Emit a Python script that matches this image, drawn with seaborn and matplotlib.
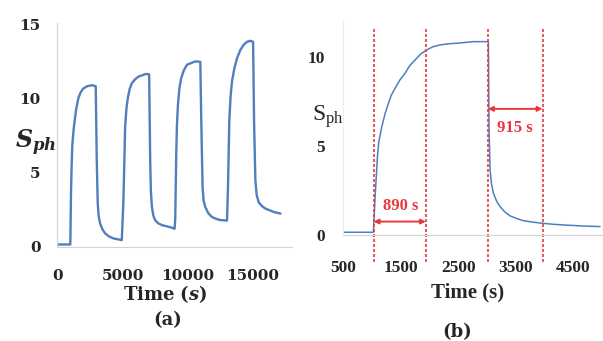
import numpy as np
import matplotlib as mpl
mpl.use('Agg')

import matplotlib.pyplot as plt
import seaborn as sns
import pandas as pd

# panel (a): four on/off cycles
cycle_time = [0, 1000, 1050, 1100, 1155, 1250, 1360, 1450, 1620, 1800, 2000, 2300, 2650, 2950,
              3030, 3105, 3180, 3285, 3450, 3670, 4000, 4310, 4950,
              5075, 5205, 5300, 5410, 5550, 5720, 5950, 6230, 6800, 7050,
              7130, 7180, 7260, 7370, 7510, 7750, 8030, 8670, 9000,
              9050, 9130, 9180, 9260, 9370, 9510, 9700, 9950, 10590, 10975,
              11050, 11150, 11230, 11360, 11600, 11870, 12200, 12510, 13025,
              13100, 13200, 13300, 13410, 13600, 13795, 14050, 14300, 14550, 14820, 15025,
              15100, 15200, 15300, 15460, 15700, 15970, 16610, 17125]
cycle_sph = [0.15, 0.15, 3.5, 5.5, 6.9, 7.9, 8.7, 9.3, 10.05, 10.45, 10.7, 10.85, 10.92, 10.85,
             5.8, 2.9, 2.05, 1.57, 1.2, 0.9, 0.68, 0.56, 0.45,
             3.1, 8.05, 9.3, 10.05, 10.65, 11.05, 11.3, 11.5, 11.68, 11.65,
             5.8, 3.8, 2.7, 2.1, 1.79, 1.58, 1.46, 1.32, 1.22,
             1.8, 6.3, 8.2, 9.6, 10.7, 11.4, 11.9, 12.3, 12.53, 12.5,
             8.5, 4.0, 3.1, 2.68, 2.25, 2.01, 1.88, 1.8, 1.77,
             4.0, 8.5, 10.2, 11.2, 12.1, 12.75, 13.3, 13.65, 13.85, 13.92, 13.85,
             8.5, 4.5, 3.5, 3.0, 2.75, 2.58, 2.35, 2.24]

# panel (b): single cycle, rise/decay times
single_time = [500, 1027, 1057, 1097, 1120, 1173, 1230, 1288, 1340, 1404, 1490, 1578, 1660,
               1752, 1850, 1955, 2060, 2187, 2330, 2477, 2766, 3000, 3027,
               3039, 3057, 3080, 3114, 3170, 3230, 3310, 3404, 3520, 3636, 3800, 3955,
               4150, 4331, 4679, 4970]
single_sph = [0.15, 0.15, 2.15, 4.39, 5.2, 6.07, 6.8, 7.38, 7.85, 8.23, 8.7, 9.07, 9.5,
              9.81, 10.15, 10.38, 10.55, 10.66, 10.72, 10.75, 10.84, 10.84, 10.85,
              5.89, 3.65, 2.9, 2.34, 1.9, 1.59, 1.3, 1.07, 0.92, 0.80, 0.72, 0.66,
              0.6, 0.56, 0.50, 0.47]
marker_times = [1030, 1940, 3020, 3970]
rise_label = "890 s"
decay_label = "915 s"

blue = '#4f7fbd'
red = '#e8383d'
grey = '#d4d4d4'

sns.set_style("white")
plt.rcParams['mathtext.fontset'] = 'custom'
plt.rcParams['mathtext.it'] = 'DejaVu Serif:italic:bold'
plt.rcParams['mathtext.rm'] = 'Liberation Serif'
plt.rcParams['mathtext.bf'] = 'DejaVu Serif:bold'

fig = plt.figure(figsize=(6.03, 3.41), dpi=100)
ax1 = fig.add_axes([0.095, 0.2765, 0.389, 0.655])
ax2 = fig.add_axes([0.569, 0.311, 0.429, 0.6275])

df_a = pd.DataFrame({"t": cycle_time, "s": cycle_sph})
sns.lineplot(data=df_a, x="t", y="s", ax=ax1, color=blue, lw=1.7, estimator=None)
ax1.set_xlim(0, 18000)
ax1.set_ylim(0, 15.1)
ax1.set_xticks([0, 5000, 10000, 15000])
ax1.set_yticks([0, 5, 10, 15])
ax1.tick_params(axis='x', length=3, color=grey, pad=13, labelsize=11)
ax1.tick_params(axis='y', length=3, color=grey, pad=9, labelsize=11)
for lab in ax1.get_xticklabels() + ax1.get_yticklabels():
    lab.set_fontfamily('DejaVu Serif')
    lab.set_fontweight('bold')

df_b = pd.DataFrame({"t": single_time, "s": single_sph})
sns.lineplot(data=df_b, x="t", y="s", ax=ax2, color=blue, lw=1.1, estimator=None)
ax2.set_xlim(500, 5000)
ax2.set_ylim(0, 12)
ax2.set_xticks([500, 1500, 2500, 3500, 4500])
ax2.set_xticks([1000, 2000, 3000, 4000], minor=True)
ax2.set_yticks([0, 5, 10])
ax2.tick_params(axis='x', which='both', length=3, color=grey, pad=15, labelsize=12.5)
ax2.tick_params(axis='y', length=3, color=grey, pad=10, labelsize=12.5)
for lab in ax2.get_xticklabels() + ax2.get_yticklabels():
    lab.set_fontfamily('Liberation Serif')
    lab.set_fontweight('bold')

ax2.vlines(marker_times, -1.5, 11.6, colors=red, linestyles=(0, (1.8, 1.2)), lw=1.2, clip_on=False)
arrow = dict(arrowstyle='<|-|>', color=red, lw=1.4, mutation_scale=7, shrinkA=0, shrinkB=0)
ax2.annotate('', xy=(marker_times[1], 0.75), xytext=(marker_times[0], 0.75), arrowprops=arrow)
ax2.annotate('', xy=(marker_times[3], 7.07), xytext=(marker_times[2], 7.07), arrowprops=arrow)
ax2.text(1500, 1.6, rise_label, color=red, ha='center', va='center', fontsize=12,
         family='Liberation Serif', weight='bold')
ax2.text(3490, 6.0, decay_label, color=red, ha='center', va='center', fontsize=12,
         family='Liberation Serif', weight='bold')

for ax in (ax1, ax2):
    ax.set_xlabel('')
    ax.set_ylabel('')
    ax.spines['top'].set_visible(False)
    ax.spines['right'].set_visible(False)
    ax.spines['left'].set_color(grey)
    ax.spines['bottom'].set_color(grey)
ax2.spines['left'].set_color('#ececec')

fig.text(0.025, 0.58, r'$S_{ph}$', fontsize=17, ha='left', va='center')
fig.text(0.518, 0.657, r'$\mathrm{S_{ph}}$', fontsize=17, ha='left', va='center')
fig.text(165 / 603, 1 - 294 / 341, r'Time ($s$)', fontsize=13, ha='center', va='center',
         family='DejaVu Serif', weight='bold')
fig.text(168 / 603, 1 - 320 / 341, '(a)', fontsize=13, ha='center', va='center',
         family='DejaVu Serif', weight='bold')
fig.text(468 / 603, 1 - 292 / 341, 'Time (s)', fontsize=15, ha='center', va='center',
         family='Liberation Serif', weight='bold')
fig.text(457 / 603, 1 - 332 / 341, '(b)', fontsize=13, ha='center', va='center',
         family='DejaVu Serif', weight='bold')

plt.savefig('out.png', format='png', dpi=100)
plt.close()
